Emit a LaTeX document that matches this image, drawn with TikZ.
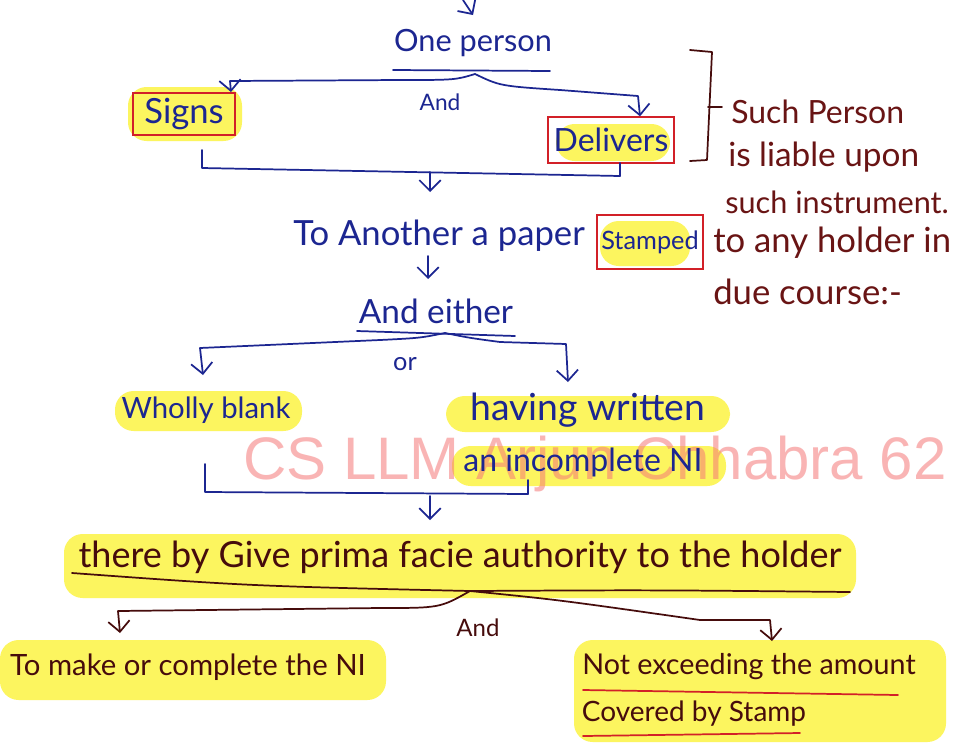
\documentclass[tikz,border=0pt]{standalone}
\usepackage{fontspec}
\setmainfont{Lato}
\newfontfamily\markfont{Liberation Sans}
\usetikzlibrary{arrows.meta}
\definecolor{inkblue}{RGB}{28,38,145}
\definecolor{inkbrown}{RGB}{70,12,12}
\definecolor{inkred}{RGB}{105,20,20}
\definecolor{boxred}{RGB}{210,32,40}
\definecolor{hilite}{RGB}{252,245,95}
\definecolor{markpink}{RGB}{245,120,120}
\newcommand{\fs}[1]{\fontsize{#1}{#1}\selectfont}
\tikzset{
  tip/.style={-{Straight Barb[length=8pt,width=16pt]}},
  blueline/.style={draw=inkblue,line width=1.3pt,line cap=round,line join=round},
  brownline/.style={draw=inkbrown,line width=1.3pt,line cap=round,line join=round},
  redline/.style={draw=boxred,line width=1.3pt,line cap=round},
  bluetext/.style={text=inkblue,inner sep=0pt},
  browntext/.style={text=inkbrown,inner sep=0pt},
  sidetext/.style={text=inkred,inner sep=0pt,anchor=west,font=\fs{24}},
  redbox/.style={draw=boxred,line width=1.5pt,inner sep=0pt,text=inkblue},
  highlight/.style={fill=hilite,rounded corners=14pt,draw=none}
}
\begin{document}
\begin{tikzpicture}[x=0.75pt,y=-0.75pt]
\useasboundingbox (0,0) rectangle (962,743);
\fill[white] (0,0) rectangle (962,743);

% highlighter strokes
\path[highlight] (128,87) rectangle (242,141);
\path[highlight] (556,124) rectangle (670,161);
\path[highlight] (600,221) rectangle (690,266);
\path[highlight] (115,391) rectangle (302,431);
\path[highlight] (446,396) rectangle (730,432);
\path[highlight] (452,446) rectangle (726,486);
\path[highlight] (64,534) rectangle (856,598);
\path[highlight] (0,640) rectangle (386,700);
\path[highlight] (574,640) rectangle (946,742);

% owner mark, under the ink
\node[text=markpink,opacity=0.55,font=\markfont\fs{45},inner sep=0pt] (owner) at (595,464) {CS LLM Arjun Chhabra 62};

% first level
\coordinate (top) at (463,0);
\node[bluetext,font=\fs{23}] (person) at (473,43) {One person};
\draw[tip,blueline] (top) -- (person.north |- 0,15);
\draw[blueline] (393,70) -- (550,71);
\coordinate (split1) at (475,74);

\node[redbox,minimum width=77pt,minimum height=31.5pt,font=\fs{26}] (signs) at (184,114) {Signs};
\node[redbox,minimum width=94.5pt,minimum height=34pt,font=\fs{24}] (delivers) at (611,140) {Delivers};
\node[bluetext,font=\fs{17}] (and1) at (440,102) {And};

\draw[blueline,tip] (split1) .. controls (455,80) .. (400,80) -- (230,81) -- (signs.north -| 231,0);
\draw[blueline,tip] (split1) .. controls (500,86) .. (560,90) -- (638,96) -- (delivers.north -| 640,0);

\coordinate (joinL) at (202,150);
\coordinate (joinR) at (620,163);
\coordinate (join1) at (430,172);
\draw[blueline] (joinL) -- (202,168) -- (620,176) -- (joinR);
\draw[blueline,tip] (join1) -- (430,192);

% second level
\node[bluetext,font=\fs{26},anchor=west] (paper) at (293,236) {To Another a paper};
\node[redbox,minimum width=80pt,minimum height=41pt,font=\fs{19}] (stamped) at (650,242) {Stamped};
\draw[blueline,tip] (428,256) -- (428,279);

\node[bluetext,font=\fs{25}] (either) at (436,311) {And either};
\draw[blueline] (357,331) -- (515,336);
\coordinate (split2) at (445,333);
\draw[blueline,tip] (split2) .. controls (420,338) .. (380,340) -- (200,348) -- (203,375);
\draw[blueline,tip] (split2) .. controls (470,338) .. (500,342) -- (566,344) -- (568,382);
\node[bluetext,font=\fs{19}] (or) at (405,364) {or};

\node[bluetext,font=\fs{22}] (blank) at (206,410) {Wholly blank};
\node[bluetext,font=\fs{28}] (written) at (588,410) {having written};
\node[bluetext,font=\fs{24}] (incomplete) at (583,462) {an incomplete NI};

\coordinate (joinL2) at (205,464);
\coordinate (joinR2) at (528,480);
\coordinate (join2) at (430,496);
\draw[blueline] (joinL2) -- (205,492) -- (528,494) -- (joinR2);
\draw[blueline,tip] (join2) -- (430,520);

% third level
\node[browntext,font=\fs{27}] (authority) at (460,557) {there by Give prima facie authority to the holder};
\coordinate (split3) at (470,591);
\draw[brownline] (72,573) .. controls (250,586) .. (split3) .. controls (650,590) .. (850,592);
\draw[brownline,tip] (split3) .. controls (440,608) .. (380,608) -- (118,611) -- (120,633);
\draw[brownline,tip] (split3) .. controls (560,600) .. (700,620) -- (770,620) -- (772,641);
\node[browntext,font=\fs{18}] (and2) at (478,628) {And};

\node[browntext,font=\fs{22}] (make) at (188,667) {To make or complete the NI};
\node[browntext,font=\fs{21.5}] (exceed) at (749,667) {Not exceeding the amount};
\node[browntext,font=\fs{21}] (covered) at (694,714) {Covered by Stamp};
\draw[redline] (583,690) -- (898,695);
\draw[redline] (583,736) -- (800,733);

% bracket and side note
\coordinate (brA) at (690,50);
\coordinate (brB) at (690,161);
\draw[brownline] (brA) -- (712,52) -- (707,160) -- (brB);
\draw[brownline] (708,107) -- (722,107);
\node[sidetext] (s1) at (731,112) {Such Person};
\node[sidetext,font=\fs{25}] (s2) at (728,157) {is liable upon};
\node[sidetext,font=\fs{23}] (s3) at (725,202) {such instrument.};
\node[sidetext,font=\fs{26}] (s4) at (713,243) {to any holder in};
\node[sidetext,font=\fs{26}] (s5) at (713,292) {due course:-};
\end{tikzpicture}
\end{document}
